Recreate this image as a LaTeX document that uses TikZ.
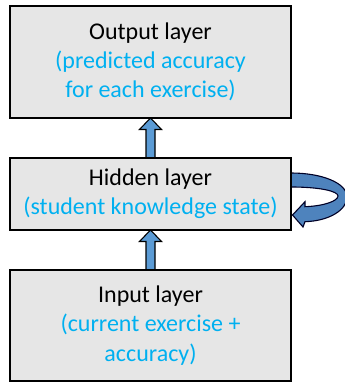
\documentclass[tikz,border=0pt]{standalone}
\usepackage{fontspec}
\setmainfont{Carlito}
\usetikzlibrary{calc}
\definecolor{boxgray}{HTML}{E6E6E6}
\definecolor{txtblue}{HTML}{00B0F0}
\definecolor{arrblue}{HTML}{5B9BD5}
\definecolor{arrblue2}{HTML}{4E83BD}
\tikzset{
  layerbox/.style={draw=black, line width=2.6pt, fill=boxgray, outer sep=0pt,
    inner sep=0pt, minimum width=281pt, align=center,
    font=\fontsize{24}{29.3}\selectfont},
  blockarrow/.style={draw=black, line width=1.1pt, fill=arrblue, line join=miter},
  loopArrow/.style={draw=black!85!blue, line width=1.1pt, fill=arrblue2, line join=miter},
  sub/.style={text=txtblue}
}
\begin{document}
\begin{tikzpicture}[x=1pt,y=1pt]
\useasboundingbox (0,0) rectangle (345,383);
% node positions (for anchors)
\path (150.5,321) node[layerbox, minimum height=112pt, draw=none, fill=none] (out) {};
\path (150.5,189) node[layerbox, minimum height=72pt, draw=none, fill=none] (hid) {};
\path (150.5,57.5) node[layerbox, minimum height=111pt, draw=none, fill=none] (inp) {};
% straight block arrows
\draw[blockarrow] let \p1=(hid.north), \p2=(out.south) in
  (\x1-4.5,\y1) -- (\x1-4.5,\y2-11.5) -- (\x1-11,\y2-11.5) -- (\x1,\y2)
  -- (\x1+11,\y2-11.5) -- (\x1+4.5,\y2-11.5) -- (\x1+4.5,\y1) -- cycle;
\draw[blockarrow] let \p1=(inp.north), \p2=(hid.south) in
  (\x1-4.5,\y1) -- (\x1-4.5,\y2-11.5) -- (\x1-11,\y2-11.5) -- (\x1,\y2)
  -- (\x1+11,\y2-11.5) -- (\x1+4.5,\y2-11.5) -- (\x1+4.5,\y1) -- cycle;
% recurrent curved arrow
\begin{scope}[shift={(hid.east)}]
\draw[loopArrow] (0,21) .. controls (31,21) and (56,11) .. (56,-3)
  .. controls (56,-16) and (38,-27) .. (14,-27.7)
  -- (12,-33) -- (1.5,-21) -- (14,-7.7) -- (14,-12.7)
  .. controls (33,-12) and (47,-7) .. (47,-2)
  .. controls (47,3) and (28,7) .. (0,7) -- cycle;
\end{scope}
% boxes
\node[layerbox, minimum height=112pt] (outB) at (out) {Output layer\\\textcolor{txtblue}{(predicted accuracy}\\\textcolor{txtblue}{for each exercise)}};
\node[layerbox, minimum height=72pt] (hidB) at (hid) {Hidden layer\\\textcolor{txtblue}{(student knowledge state)}};
\node[layerbox, minimum height=111pt] (inpB) at (inp) {Input layer\\\textcolor{txtblue}{(current exercise +}\\\textcolor{txtblue}{accuracy)}};
\end{tikzpicture}
\end{document}
